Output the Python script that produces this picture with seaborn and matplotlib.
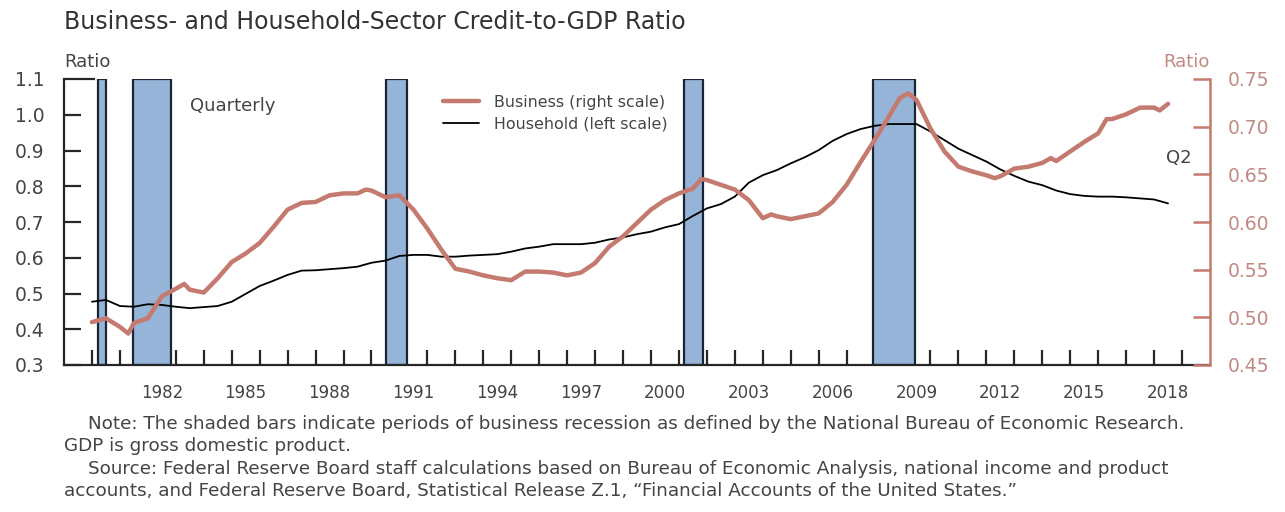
import matplotlib
matplotlib.use("Agg")
import matplotlib.pyplot as plt
import seaborn as sns
from matplotlib.ticker import FixedLocator, FixedFormatter, FormatStrFormatter

# ---------------------------------------------------------------------------
# Dados
# ---------------------------------------------------------------------------
hh_years = [1980.0, 1980.5, 1981.0, 1981.5, 1982.0, 1982.5, 1983.0, 1983.5, 1984.0, 1984.5,
            1985.0, 1985.5, 1986.0, 1986.5, 1987.0, 1987.5, 1988.0, 1988.5, 1989.0, 1989.5,
            1990.0, 1990.5, 1991.0, 1991.5, 1992.0, 1992.5, 1993.0, 1993.5, 1994.0, 1994.5,
            1995.0, 1995.5, 1996.0, 1996.5, 1997.0, 1997.5, 1998.0, 1998.5, 1999.0, 1999.5,
            2000.0, 2000.5, 2001.0, 2001.5, 2002.0, 2002.5, 2003.0, 2003.5, 2004.0, 2004.5,
            2005.0, 2005.5, 2006.0, 2006.5, 2007.0, 2007.5, 2008.0, 2008.5, 2009.0, 2009.5,
            2010.0, 2010.5, 2011.0, 2011.5, 2012.0, 2012.5, 2013.0, 2013.5, 2014.0, 2014.5,
            2015.0, 2015.5, 2016.0, 2016.5, 2017.0, 2017.5, 2018.0, 2018.5]
hh_ratio = [0.477, 0.482, 0.465, 0.463, 0.470, 0.468, 0.463, 0.459, 0.462, 0.465,
            0.477, 0.499, 0.521, 0.536, 0.552, 0.564, 0.565, 0.568, 0.571, 0.575,
            0.586, 0.592, 0.605, 0.608, 0.608, 0.603, 0.603, 0.606, 0.608, 0.610,
            0.617, 0.626, 0.631, 0.638, 0.638, 0.638, 0.642, 0.651, 0.657, 0.666,
            0.673, 0.685, 0.694, 0.717, 0.738, 0.750, 0.771, 0.810, 0.831, 0.845,
            0.864, 0.881, 0.901, 0.927, 0.946, 0.960, 0.969, 0.974, 0.974, 0.974,
            0.953, 0.929, 0.905, 0.887, 0.869, 0.847, 0.829, 0.813, 0.803, 0.788,
            0.778, 0.773, 0.771, 0.771, 0.769, 0.766, 0.763, 0.752]

biz_years = [1980.0, 1980.5, 1981.0, 1981.3, 1981.5, 1982.0, 1982.5, 1983.0, 1983.3, 1983.5,
             1984.0, 1984.5, 1985.0, 1985.5, 1986.0, 1986.5, 1987.0, 1987.5, 1988.0, 1988.5,
             1989.0, 1989.5, 1989.8, 1990.0, 1990.5, 1991.0, 1991.5, 1992.0, 1992.5, 1993.0,
             1993.5, 1994.0, 1994.5, 1995.0, 1995.5, 1996.0, 1996.5, 1997.0, 1997.5, 1998.0,
             1998.5, 1999.0, 1999.5, 2000.0, 2000.5, 2001.0, 2001.5, 2001.8, 2002.0, 2002.5,
             2003.0, 2003.5, 2004.0, 2004.3, 2004.5, 2005.0, 2005.5, 2006.0, 2006.5, 2007.0,
             2007.5, 2008.0, 2008.5, 2008.9, 2009.2, 2009.5, 2010.0, 2010.5, 2011.0, 2011.5,
             2012.0, 2012.3, 2012.5, 2013.0, 2013.5, 2014.0, 2014.3, 2014.5, 2015.0, 2015.5,
             2016.0, 2016.3, 2016.5, 2017.0, 2017.5, 2018.0, 2018.2, 2018.5]
biz_ratio = [0.495, 0.499, 0.490, 0.483, 0.494, 0.499, 0.522, 0.530, 0.535, 0.529,
             0.526, 0.541, 0.558, 0.567, 0.578, 0.595, 0.613, 0.620, 0.621, 0.628,
             0.630, 0.630, 0.634, 0.633, 0.626, 0.628, 0.613, 0.593, 0.571, 0.551,
             0.548, 0.544, 0.541, 0.539, 0.548, 0.548, 0.547, 0.544, 0.547, 0.557,
             0.574, 0.585, 0.599, 0.613, 0.623, 0.630, 0.635, 0.645, 0.644, 0.639,
             0.634, 0.623, 0.604, 0.608, 0.606, 0.603, 0.606, 0.609, 0.621, 0.639,
             0.663, 0.686, 0.710, 0.730, 0.735, 0.728, 0.698, 0.674, 0.658, 0.653,
             0.649, 0.646, 0.648, 0.656, 0.658, 0.662, 0.667, 0.664, 0.674, 0.684,
             0.693, 0.708, 0.708, 0.713, 0.720, 0.720, 0.717, 0.724]

# Recessões NBER (início, fim)
rec_start = [1980.2, 1981.47, 1990.51, 2001.17, 2007.93]
rec_end = [1980.5, 1982.83, 1991.26, 2001.85, 2009.46]

year_labels = list(range(1982, 2019, 3))

# ---------------------------------------------------------------------------
# Estilo
# ---------------------------------------------------------------------------
sns.set_style("white")
plt.rcParams["font.family"] = ["DejaVu Sans"]

SALMON = "#C47A6E"
SALMON_TXT = "#C08A82"
GRAY_TXT = "#444444"

fig = plt.figure(figsize=(12.85, 5.12), dpi=100)
ax = fig.add_axes([64 / 1285, 147 / 512, 1146 / 1285, 286 / 512])
ax2 = ax.twinx()

# barras de recessão
for s, e in zip(rec_start, rec_end):
    ax.axvspan(s, e, facecolor="#95B4D8", edgecolor="#1c2533", lw=1.6, zorder=1)

sns.lineplot(x=hh_years, y=hh_ratio, ax=ax, color="black", lw=1.3,
             label="Household (left scale)", zorder=3)
sns.lineplot(x=biz_years, y=biz_ratio, ax=ax2, color=SALMON, lw=3.2,
             label="Business (right scale)", zorder=4)

ax.set_xlim(1979, 2020)
ax.set_ylim(0.3, 1.1)
ax2.set_ylim(0.45, 0.75)

# eixos
for a in (ax, ax2):
    a.spines["top"].set_visible(False)
    a.set_xlabel("")
    a.set_ylabel("")
ax.spines["right"].set_visible(False)
ax2.spines["left"].set_visible(False)
ax2.spines["bottom"].set_visible(False)
ax.spines["left"].set_linewidth(1.6)
ax.spines["bottom"].set_linewidth(1.6)
ax2.spines["right"].set_color(SALMON)
ax2.spines["right"].set_linewidth(1.8)

ax.set_yticks([0.3, 0.4, 0.5, 0.6, 0.7, 0.8, 0.9, 1.0, 1.1])
ax.yaxis.set_major_formatter(FormatStrFormatter("%.1f"))
ax.tick_params(axis="y", direction="in", length=12, width=1.6, pad=14,
               labelsize=13.5, labelcolor=GRAY_TXT, left=True)
ax.yaxis.get_major_ticks()[-1].tick1line.set_markersize(22)

ax2.set_yticks([0.45, 0.50, 0.55, 0.60, 0.65, 0.70, 0.75])
ax2.yaxis.set_major_formatter(FormatStrFormatter("%.2f"))
ax2.tick_params(axis="y", direction="in", length=12, width=1.8, pad=13,
                labelsize=13.5, color=SALMON, labelcolor=SALMON_TXT, right=True)

ax.xaxis.set_major_locator(FixedLocator(list(range(1980, 2020))))
ax.xaxis.set_major_formatter(FixedFormatter([""] * 40))
ax.xaxis.set_minor_locator(FixedLocator([y + 0.5 for y in year_labels]))
ax.xaxis.set_minor_formatter(FixedFormatter([str(y) for y in year_labels]))
ax.tick_params(axis="x", which="major", direction="in", length=11, width=1.6, bottom=True)
ax.tick_params(axis="x", which="minor", length=0, pad=14, labelsize=12,
               labelcolor=GRAY_TXT, bottom=True)

# legenda
if ax.get_legend() is not None:
    ax.get_legend().remove()
h1, l1 = ax.get_legend_handles_labels()
h2, l2 = ax2.get_legend_handles_labels()
ax2.legend(h2 + h1, l2 + l1, loc="upper left", bbox_to_anchor=(0.318, 0.995),
           frameon=False, fontsize=11.4, handlelength=2.3, handletextpad=0.95,
           labelspacing=0.45, labelcolor=GRAY_TXT)

# textos
ax.text(0.11, 0.905, "Quarterly", transform=ax.transAxes, fontsize=13,
        color=GRAY_TXT, va="center")
ax.text(0.962, 0.725, "Q2", transform=ax.transAxes, fontsize=13,
        color=GRAY_TXT, va="center")

fig.text(64 / 1285, 1 - 22 / 512, "Business- and Household-Sector Credit-to-GDP Ratio",
         fontsize=17, color="#333333", va="center")
fig.text(64 / 1285, 1 - 62 / 512, "Ratio", fontsize=13, color=GRAY_TXT, va="center")
fig.text(1210 / 1285, 1 - 62 / 512, "Ratio", fontsize=13, color=SALMON_TXT,
         va="center", ha="right")

note_kw = dict(fontsize=13.2, color=GRAY_TXT, va="center")
fig.text(88 / 1285, 1 - 424 / 512,
         "Note: The shaded bars indicate periods of business recession as defined by the "
         "National Bureau of Economic Research.", **note_kw)
fig.text(64 / 1285, 1 - 446 / 512, "GDP is gross domestic product.", **note_kw)
fig.text(88 / 1285, 1 - 469 / 512,
         "Source: Federal Reserve Board staff calculations based on Bureau of Economic "
         "Analysis, national income and product", **note_kw)
fig.text(64 / 1285, 1 - 491 / 512,
         "accounts, and Federal Reserve Board, Statistical Release Z.1, "
         "\u201cFinancial Accounts of the United States.\u201d", **note_kw)

fig.savefig("out.png", dpi=100)
